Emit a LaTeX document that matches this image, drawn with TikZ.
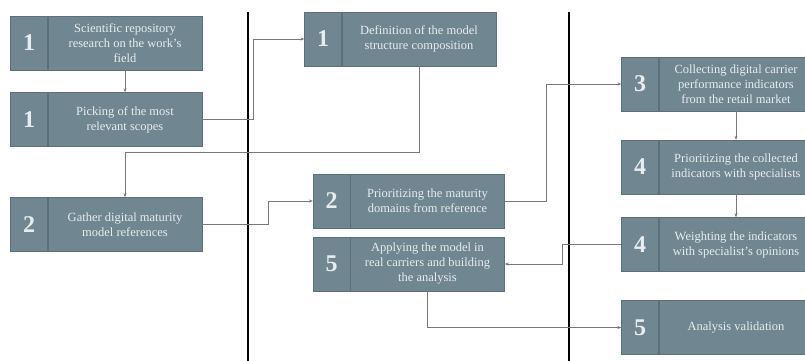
\documentclass[tikz,border=0pt]{standalone}
\usepackage{fontspec}
\setmainfont{Liberation Serif}
\usetikzlibrary{positioning,arrows.meta}

\definecolor{boxfill}{RGB}{112,135,146}
\definecolor{boxedge}{RGB}{92,112,122}
\definecolor{boxtext}{RGB}{232,236,238}
\definecolor{linkgray}{RGB}{120,120,120}

\begin{document}
\begin{tikzpicture} [x=1pt, y=-1pt, stepbox/.style={rectangle, draw=boxedge, fill=boxfill, text=boxtext, minimum width=154pt, minimum height=54pt, inner sep=0pt, align=center, font=\fontsize{12.5}{15}\selectfont}, numbox/.style={rectangle, draw=boxedge, fill=boxfill, text=boxtext, minimum width=37pt, minimum height=54pt, inner sep=0pt, font=\fontsize{24}{24}\selectfont\bfseries}, link/.style={draw=linkgray, line width=0.8pt, -{Stealth[length=4pt,width=3pt]}}, bar/.style={line width=2.5pt, black}]
	\path[use as bounding box, clip] (0,0) rectangle (805,361);

	% column separators
	\draw [bar] (248,12) -- (248,361);
	\draw [bar] (569,12) -- (569,361);

	% left column
	\node [stepbox] (a1) at (125,43) {Scientific repository\\research on the work's\\field};
	\node [numbox, left=0pt of a1] (a1num) {1};
	\node [stepbox] (a2) at (125,119.5) {Picking of the most\\relevant scopes};
	\node [numbox, left=0pt of a2] (a2num) {1};
	\node [stepbox] (a3) at (125,224.5) {Gather digital maturity\\model references};
	\node [numbox, left=0pt of a3] (a3num) {2};

	% middle column
	\node [stepbox] (b1) at (419,39) {Definition of the model\\structure composition};
	\node [numbox, left=0pt of b1] (b1num) {1};
	\node [stepbox] (b2) at (427.5,201) {Prioritizing the maturity\\domains from reference};
	\node [numbox, left=0pt of b2] (b2num) {2};
	\node [stepbox] (b3) at (427.5,264) {Applying the model in\\real carriers and building\\the analysis};
	\node [numbox, left=0pt of b3] (b3num) {5};

	% right column
	\node [stepbox] (c1) at (736,84) {Collecting digital carrier\\performance indicators\\from the retail market};
	\node [numbox, left=0pt of c1] (c1num) {3};
	\node [stepbox] (c2) at (736,167) {Prioritizing the collected\\indicators with specialists};
	\node [numbox, left=0pt of c2] (c2num) {4};
	\node [stepbox] (c3) at (736,244.5) {Weighting the indicators\\with specialist's opinions};
	\node [numbox, left=0pt of c3] (c3num) {4};
	\node [stepbox] (c4) at (736,327.5) {Analysis validation};
	\node [numbox, left=0pt of c4] (c4num) {5};

	% draw edges
	\draw [link] (a1) -- (a2);
	\draw [link] (a2.east) -- ++(51,0) |- (b1num.west);
	\draw [link] (b1.south) -- ++(0,86) -| (a3.north);
	\draw [link] (a3.east) -- ++(66,0) |- (b2num.west);
	\draw [link] (b2.east) -- ++(42,0) |- (c1num.west);
	\draw [link] (c1) -- (c2);
	\draw [link] (c2) -- (c3);
	\draw [link] (c3num.west) -- ++(-59,0) |- (b3.east);
	\draw [link] (b3.south) |- (c4num.west);
\end{tikzpicture}
\end{document}
